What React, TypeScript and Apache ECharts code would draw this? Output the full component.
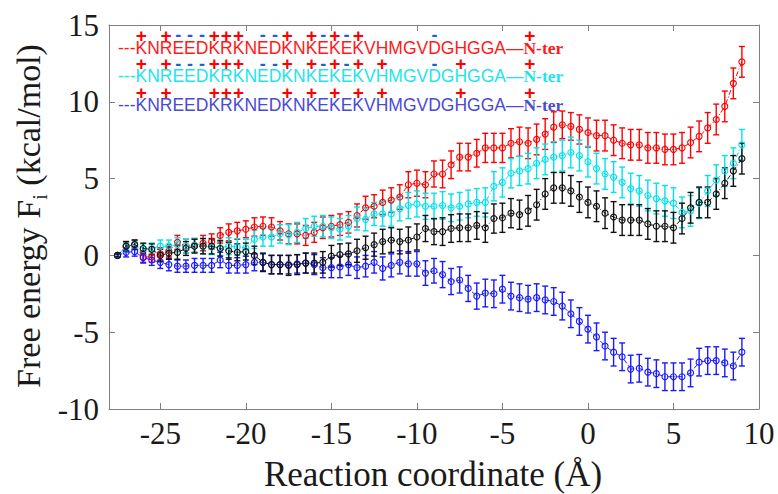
import React, { useEffect, useRef } from "react";
import * as echarts from "echarts";

const X = [
  -27.5, -27, -26.5, -26, -25.5, -25, -24.5, -24, -23.5, -23,
  -22.5, -22, -21.5, -21, -20.5, -20, -19.5, -19, -18.5, -18,
  -17.5, -17, -16.5, -16, -15.5, -15, -14.5, -14, -13.5, -13,
  -12.5, -12, -11.5, -11, -10.5, -10, -9.5, -9, -8.5, -8,
  -7.5, -7, -6.5, -6, -5.5, -5, -4.5, -4, -3.5, -3,
  -2.5, -2, -1.5, -1, -0.5, 0, 0.5, 1, 1.5, 2,
  2.5, 3, 3.5, 4, 4.5, 5, 5.5, 6, 6.5, 7,
  7.5, 8, 8.5, 9,
];

const RED = [
  0, 0.6, 0.7, -0.1, -0.1, 0.1, 0.3, 0.85, 0.6, 0.65,
  0.8, 0.9, 1.3, 1.5, 1.6, 1.7, 1.85, 1.9, 1.85, 1.6,
  1.4, 1.4, 1.3, 1.5, 1.8, 1.9, 2.0, 2.15, 2.6, 3.1,
  3.2, 3.45, 3.6, 3.8, 4.6, 4.7, 4.6, 5.3, 5.3, 5.9,
  6.4, 6.4, 6.65, 7.0, 7.0, 7.0, 7.3, 7.4, 7.3, 7.55,
  7.9, 8.35, 8.5, 8.4, 8.2, 8.0, 7.8, 7.8, 7.5, 7.3,
  7.2, 7.2, 7.0, 7.0, 6.9, 6.9, 7.0, 7.35, 7.75, 8.3,
  8.85, 9.7, 11.2, 12.6,
];
const CYAN = [
  0, 0.55, 0.65, 0.4, 0.45, 0.6, 0.6, 0.7, 0.6, 0.65,
  0.6, 0.55, 0.5, 0.6, 0.55, 0.5, 1.05, 1.2, 1.2, 1.4,
  1.35, 1.5, 1.75, 1.9, 1.9, 1.8, 1.7, 1.9, 2.4, 2.35,
  2.7, 2.7, 2.7, 3.05, 3.25, 3.35, 3.2, 3.2, 3.25, 3.1,
  3.2, 3.35, 3.45, 3.45, 4.5, 4.75, 5.35, 5.5, 5.65, 6.0,
  6.25, 6.4, 6.5, 6.7, 6.5, 6.1, 5.65, 5.3, 5.1, 4.75,
  4.35, 4.2, 3.9, 3.7, 3.55, 3.4, 2.8, 2.9, 3.4, 4.2,
  4.9, 5.5, 6.0, 7.2,
];
const BLACK = [
  0, 0.6, 0.7, 0.45, 0.4, 0.0, 0.15, 0.2, 0.45, 0.6,
  0.6, 0.6, 0.45, 0.3, 0.2, 0.25, 0.0, -0.45, -0.6, -0.6,
  -0.65, -0.6, -0.5, -0.5, -0.45, -0.05, 0.05, 0.1, 0.3, 0.5,
  0.7, 0.9, 1.0, 0.9, 1.0, 1.2, 1.75, 1.55, 1.55, 1.75,
  1.8, 1.8, 1.95, 1.8, 2.4, 2.45, 2.75, 2.65, 2.9, 3.3,
  4.0, 4.4, 4.4, 4.2, 3.8, 3.45, 3.2, 2.75, 2.5, 2.3,
  2.3, 2.3, 2.05, 1.9, 1.9, 1.8, 2.4, 3.1, 3.45, 3.45,
  4.0, 4.7, 5.5, 6.3,
];
const BLUE = [
  0, 0.2, 0.25, -0.15, -0.3, -0.45, -0.6, -0.7, -0.7, -0.65,
  -0.65, -0.65, -0.3, -0.65, -0.65, -0.6, -0.45, -0.45, -0.6, -0.6,
  -0.6, -0.55, -0.5, -0.6, -0.8, -0.8, -0.75, -0.6, -0.8, -0.7,
  -0.45, -0.85, -0.65, -0.45, -0.55, -0.55, -1.15, -1.0, -1.25, -1.7,
  -1.6, -2.15, -2.65, -2.45, -2.5, -2.2, -2.65, -2.75, -2.85, -2.75,
  -2.9, -3.0, -3.3, -3.8, -4.3, -4.8, -5.3, -5.9, -6.3, -6.6,
  -7.4, -7.35, -7.6, -7.7, -7.9, -7.9, -7.9, -7.65, -6.95, -6.85,
  -6.85, -7.0, -7.2, -6.3,
];

const RED_ERR = [
  0.1, 0.3, 0.3, 0.35, 0.35, 0.4, 0.4, 0.45, 0.45, 0.45,
  0.5, 0.5, 0.5, 0.55, 0.55, 0.55, 0.6, 0.6, 0.6, 0.6,
  0.65, 0.65, 0.65, 0.65, 0.7, 0.7, 0.7, 0.7, 0.75, 0.75,
  0.75, 0.8, 0.8, 0.8, 0.85, 0.85, 0.85, 0.85, 0.9, 0.9,
  0.9, 0.9, 0.9, 0.95, 0.95, 0.95, 0.95, 0.95, 1.0, 1.0,
  1.0, 1.0, 0.9, 0.9, 0.95, 0.95, 1.0, 1.0, 1.0, 1.0,
  1.0, 1.0, 1.0, 1.0, 1.0, 1.0, 1.0, 1.0, 1.0, 1.0,
  1.0, 1.0, 1.0, 1.0,
];
const CYAN_ERR = [
  0.1, 0.3, 0.3, 0.35, 0.35, 0.4, 0.4, 0.45, 0.45, 0.45,
  0.5, 0.5, 0.5, 0.55, 0.55, 0.55, 0.6, 0.6, 0.6, 0.6,
  0.65, 0.65, 0.65, 0.65, 0.7, 0.7, 0.7, 0.7, 0.75, 0.75,
  0.75, 0.8, 0.8, 0.8, 0.85, 0.85, 0.85, 0.85, 0.9, 0.9,
  0.9, 0.9, 0.9, 0.95, 0.95, 0.95, 0.95, 0.95, 1.0, 1.0,
  1.0, 1.0, 1.0, 1.0, 1.0, 1.0, 1.0, 1.0, 1.0, 1.0,
  1.0, 1.0, 1.0, 1.0, 1.0, 1.0, 1.0, 1.0, 1.0, 1.0,
  1.0, 1.0, 1.0, 1.0,
];
const BLACK_ERR = [
  0.1, 0.3, 0.3, 0.35, 0.35, 0.4, 0.4, 0.45, 0.45, 0.45,
  0.5, 0.5, 0.5, 0.55, 0.55, 0.55, 0.6, 0.6, 0.6, 0.6,
  0.65, 0.65, 0.65, 0.65, 0.7, 0.7, 0.7, 0.7, 0.75, 0.75,
  0.75, 0.8, 0.8, 0.8, 0.85, 0.85, 0.85, 0.85, 0.9, 0.9,
  0.9, 0.9, 0.9, 0.95, 0.95, 0.95, 0.95, 0.95, 1.0, 1.0,
  1.0, 1.0, 1.0, 1.0, 1.0, 1.0, 1.0, 1.0, 1.0, 1.0,
  1.0, 1.0, 1.0, 1.0, 1.0, 1.0, 1.0, 1.0, 1.0, 1.0,
  1.0, 1.0, 1.0, 1.0,
];
const BLUE_ERR = [
  0.1, 0.3, 0.3, 0.35, 0.35, 0.4, 0.4, 0.4, 0.4, 0.45,
  0.45, 0.45, 0.5, 0.5, 0.5, 0.55, 0.55, 0.55, 0.6, 0.6,
  0.6, 0.6, 0.65, 0.65, 0.65, 0.65, 0.7, 0.7, 0.7, 0.7,
  0.7, 0.75, 0.75, 0.75, 0.8, 0.8, 0.8, 0.8, 0.85, 0.85,
  0.85, 0.85, 0.85, 0.9, 0.9, 0.9, 0.9, 0.9, 0.9, 0.9,
  0.9, 0.9, 0.9, 0.9, 0.9, 0.9, 0.9, 0.9, 0.9, 0.9,
  0.9, 0.9, 0.9, 0.9, 0.9, 0.9, 0.9, 0.9, 0.9, 0.9,
  0.9, 0.9, 0.9, 0.9,
];

const X_TICKS = [-25, -20, -15, -10, -5, 0, 5, 10];

const SEQ = "---KNREEDKRKNEDKNKEKEKVHMGVDGHGGA";
const NTER = "N-ter";
// letter indices (0 = first K after the dashes)
const RED_PLUS = [0, 2, 6, 7, 8, 12, 14, 16, 18];
const RED_MINUS = [3, 4, 5, 10, 11, 15, 17, 24];
const CYAN_PLUS = [0, 2, 6, 7, 8, 12, 14, 16, 18, 20, 26];
const CYAN_MINUS = [3, 4, 5, 10, 11, 15, 17, 24];
const BLUE_PLUS = [0, 2, 6, 7, 8, 12, 14, 16, 18, 20, 26];
const BLUE_MINUS: number[] = [];

const SANS = "Liberation Sans";
const SERIF = "Liberation Serif";

export default function App() {
  const ref = useRef<HTMLDivElement>(null);
  useEffect(() => {
    const chart = echarts.init(ref.current!, null, { renderer: "svg" });
    const ctx = document.createElement("canvas").getContext("2d")!;
    const tw = (font: string, s: string) => {
      ctx.font = font;
      return ctx.measureText(s).width;
    };

    const axisColor = "#808080";
    const labelColor = "#1a1a1a";

    const seqFs = 17.5;
    const seqFont = `${seqFs}px "${SANS}"`;
    const nterFont = `bold ${seqFs}px "${SERIF}"`;
    const seqX = 118;
    const rows = [
      { y: 47.5, my: 35, color: "#ff1a1a", plus: RED_PLUS, minus: RED_MINUS },
      { y: 76, my: 63.5, color: "#1ee4ef", plus: CYAN_PLUS, minus: CYAN_MINUS },
      { y: 104.5, my: 92, color: "#4a4ad6", plus: BLUE_PLUS, minus: BLUE_MINUS },
    ];

    // slot widths: one per character of SEQ, then the em dash, then "N"
    const slotWidths: number[] = [];
    let prev = 0;
    for (let k = 1; k <= SEQ.length; k++) {
      const w = tw(seqFont, SEQ.slice(0, k));
      slotWidths.push(w - prev);
      prev = w;
    }
    slotWidths.push(tw(seqFont, SEQ + "—") - prev);
    slotWidths.push(tw(nterFont, "N"));

    const graphics: any[] = [];
    rows.forEach((r) => {
      graphics.push({
        type: "text",
        x: seqX,
        y: r.y,
        silent: true,
        style: {
          text: "{s|" + SEQ + "—}{n|" + NTER + "}",
          rich: {
            s: { fontFamily: SANS, fontSize: seqFs, lineHeight: 12, fill: r.color },
            n: { fontFamily: SERIF, fontWeight: "bold", fontSize: seqFs, lineHeight: 12, fill: r.color },
          },
          align: "left",
          verticalAlign: "middle",
        },
      });
      // marks row as one rich text, one slot per letter
      const rich: any = {};
      let str = "";
      slotWidths.forEach((w, k) => {
        const li = k - 3;
        let m = " ";
        if (k === slotWidths.length - 1) m = "+";
        else if (r.plus.indexOf(li) >= 0) m = "+";
        else if (r.minus.indexOf(li) >= 0) m = "-";
        const name = "c" + k;
        rich[name] = {
          width: w,
          align: "center",
          fontFamily: SANS,
          fontWeight: "bold",
          fontSize: m === "+" ? 19 : 18,
          lineHeight: 10,
          fill: m === "+" ? "#ff0000" : "#1f5fd6",
        };
        str += "{" + name + "|" + m + "}";
      });
      graphics.push({
        type: "text",
        x: seqX,
        y: r.my,
        silent: true,
        style: { text: str, rich, align: "left", verticalAlign: "middle" },
      });
    });

    // y-axis title with subscript
    const yFs = 34;
    const yFont = `${yFs}px "${SERIF}"`;
    const subFs = 20;
    const subFont = `${subFs}px "${SERIF}"`;
    const t1 = "Free energy F";
    const t2 = "i";
    const t3 = " (kcal/mol)";
    const w1 = tw(yFont, t1);
    const w2 = tw(subFont, t2);
    const w3 = tw(yFont, t3);
    const W = w1 + w2 + w3;
    const ycx = 28;
    const ycy = 216;
    const yBottom = ycy + W / 2;
    graphics.push(
      {
        type: "text", x: ycx, y: yBottom, rotation: Math.PI / 2, silent: true,
        style: { text: t1, fontFamily: SERIF, fontSize: yFs, fill: labelColor, align: "left", verticalAlign: "middle" },
      },
      {
        type: "text", x: ycx + 12, y: yBottom - w1, rotation: Math.PI / 2, silent: true,
        style: { text: t2, fontFamily: SERIF, fontSize: subFs, fill: labelColor, align: "left", verticalAlign: "middle" },
      },
      {
        type: "text", x: ycx, y: yBottom - w1 - w2, rotation: Math.PI / 2, silent: true,
        style: { text: t3, fontFamily: SERIF, fontSize: yFs, fill: labelColor, align: "left", verticalAlign: "middle" },
      },
      {
        type: "text", x: 433, y: 474, silent: true,
        style: { text: "Reaction coordinate (Å)", fontFamily: SERIF, fontSize: 35, fill: labelColor, align: "center", verticalAlign: "middle" },
      }
    );

    const seriesDefs = [
      { name: "red", color: "#ff0000", y: RED, e: RED_ERR },
      { name: "cyan", color: "#00e2ee", y: CYAN, e: CYAN_ERR },
      { name: "blue", color: "#1a1aff", y: BLUE, e: BLUE_ERR },
      { name: "black", color: "#111111", y: BLACK, e: BLACK_ERR },
    ];

    const series: any[] = [];
    seriesDefs.forEach((d) => {
      series.push({
        type: "custom",
        name: d.name + "-err",
        coordinateSystem: "cartesian2d",
        silent: true,
        data: X.map((x, i) => [x, d.y[i] - d.e[i], d.y[i] + d.e[i]]),
        encode: { x: 0, y: [1, 2] },
        renderItem: (params: any, api: any) => {
          const x = api.value(0);
          const p1 = api.coord([x, api.value(1)]);
          const p2 = api.coord([x, api.value(2)]);
          const hw = 3;
          const st = { stroke: d.color, lineWidth: 1.4 };
          return {
            type: "group",
            children: [
              { type: "line", shape: { x1: p1[0], y1: p1[1], x2: p2[0], y2: p2[1] }, style: st },
              { type: "line", shape: { x1: p1[0] - hw, y1: p1[1], x2: p1[0] + hw, y2: p1[1] }, style: st },
              { type: "line", shape: { x1: p2[0] - hw, y1: p2[1], x2: p2[0] + hw, y2: p2[1] }, style: st },
            ],
          };
        },
      });
      series.push({
        type: "line",
        name: d.name,
        data: X.map((x, i) => [x, d.y[i]]),
        symbol: "circle",
        symbolSize: 6,
        showSymbol: true,
        silent: true,
        itemStyle: { color: "rgba(255,255,255,0)", borderColor: d.color, borderWidth: 1.1 },
        lineStyle: { color: d.color, width: 1, type: [5, 2, 1, 2] },
      });
    });

    const baseX = {
      type: "value",
      min: -28,
      max: 10,
      axisLine: { show: true, onZero: false, lineStyle: { color: axisColor, width: 1 } },
      axisTick: { show: true, inside: true, length: 6, customValues: X_TICKS, lineStyle: { color: axisColor } },
      splitLine: { show: false },
    };
    const baseY = {
      type: "value",
      min: -10,
      max: 15,
      interval: 5,
      axisLine: { show: true, onZero: false, lineStyle: { color: axisColor, width: 1 } },
      axisTick: { show: true, inside: true, length: 6, lineStyle: { color: axisColor } },
      splitLine: { show: false },
    };

    chart.setOption({
      animation: false,
      backgroundColor: "#ffffff",
      grid: { left: 109, right: 19, top: 25, bottom: 85, outerBoundsMode: "none" },
      xAxis: [
        {
          ...baseX,
          position: "bottom",
          axisLabel: { customValues: X_TICKS, fontFamily: SERIF, fontSize: 31, color: labelColor, margin: 9 },
        },
        { ...baseX, position: "top", axisLabel: { show: false } },
      ],
      yAxis: [
        {
          ...baseY,
          position: "left",
          axisLabel: { fontFamily: SERIF, fontSize: 31, color: labelColor, margin: 10 },
        },
        { ...baseY, position: "right", axisLabel: { show: false } },
      ],
      graphic: graphics,
      series,
    });
    return () => chart.dispose();
  }, []);
  return <div ref={ref} style={{ position: "fixed", left: 0, top: 0, width: 778, height: 494 }} />;
}
